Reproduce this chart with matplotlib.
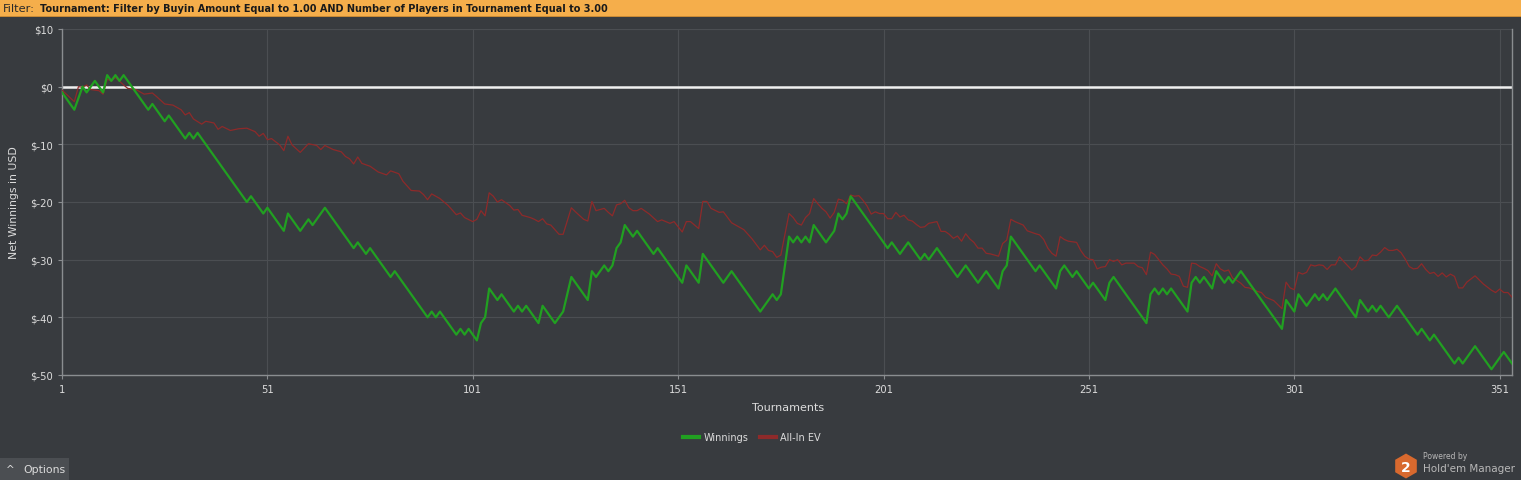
import matplotlib
matplotlib.use("Agg")
import matplotlib.pyplot as plt
from matplotlib.patches import Rectangle, RegularPolygon
from matplotlib import font_manager

# ---- data ----
win_t = [1, 4, 6, 7, 9, 11, 12, 13, 14, 15, 16, 22, 23, 26, 27, 31, 32, 33, 34, 46, 47, 50, 51, 55, 56, 59, 61, 62, 65,
         72, 73, 75, 76, 81, 82, 90, 91, 92, 93, 97, 98, 99, 100, 102, 103, 104, 105, 107, 108, 111, 112, 113, 114, 117,
         118, 121, 123, 125, 129, 130, 131, 133, 134, 135, 136, 137, 138, 140, 141, 145, 146, 152, 153, 156, 157, 162,
         164, 171, 174, 175, 176, 178, 179, 180, 181, 182, 183, 184, 187, 189, 190, 191, 192, 193, 202, 203, 205, 207,
         210, 211, 212, 214, 219, 221, 224, 226, 229, 230, 231, 232, 238, 239, 243, 244, 245, 247, 248, 251, 252, 255,
         256, 257, 265, 266, 267, 268, 269, 270, 271, 275, 276, 277, 278, 279, 281, 282, 284, 285, 286, 288, 298, 299,
         301, 302, 304, 306, 307, 308, 309, 311, 316, 317, 319, 320, 321, 322, 324, 326, 331, 332, 334, 335, 340, 341,
         342, 345, 349, 352, 354]
win_v = [-1, -4, 0, -1, 1, -1, 2, 1, 2, 1, 2, -4, -3, -6, -5, -9, -8, -9, -8, -20, -19, -22, -21, -25, -22, -25, -23, -24,
         -21, -28, -27, -29, -28, -33, -32, -40, -39, -40, -39, -43, -42, -43, -42, -44, -41, -40, -35, -37, -36, -39,
         -38, -39, -38, -41, -38, -41, -39, -33, -37, -32, -33, -31, -32, -31, -28, -27, -24, -26, -25, -29, -28, -34,
         -31, -34, -29, -34, -32, -39, -36, -37, -36, -26, -27, -26, -27, -26, -27, -24, -27, -25, -22, -23, -22, -19,
         -28, -27, -29, -27, -30, -29, -30, -28, -33, -31, -34, -32, -35, -32, -31, -26, -32, -31, -35, -32, -31, -33,
         -32, -35, -34, -37, -34, -33, -41, -36, -35, -36, -35, -36, -35, -39, -34, -33, -34, -33, -35, -32, -34, -33,
         -34, -32, -42, -37, -39, -36, -38, -36, -37, -36, -37, -35, -40, -37, -39, -38, -39, -38, -40, -38, -43, -42,
         -44, -43, -48, -47, -48, -45, -49, -46, -48]

ev_t = [1, 4, 5, 6, 7, 8, 10, 11, 12, 13, 14, 16, 17, 19, 20, 21, 23, 24, 26, 28, 30, 31, 32, 33, 35, 36, 38, 39, 40,
        42, 44, 46, 48, 49, 50, 51, 52, 54, 55, 56, 57, 59, 61, 63, 64, 65, 67, 69, 70, 71, 72, 73, 74, 76, 78, 80, 81,
        83, 84, 86, 88, 89, 90, 91, 93, 95, 97, 98, 99, 101, 102, 103, 104, 105, 106, 107, 108, 110, 111, 112, 113, 115,
        116, 117, 118, 119, 120, 122, 123, 125, 126, 128, 129, 130, 131, 133, 134, 135, 136, 137, 138, 139, 140, 141,
        142, 144, 146, 147, 149, 150, 152, 153, 154, 156, 157, 158, 159, 161, 162, 164, 165, 167, 169, 171, 172, 173,
        174, 175, 176, 178, 179, 180, 181, 182, 183, 184, 185, 186, 187, 188, 189, 190, 191, 192, 193, 194, 195, 196,
        197, 198, 199, 200, 201, 202, 203, 204, 205, 206, 207, 208, 209, 210, 211, 212, 214, 215, 216, 217, 218, 219,
        220, 221, 222, 223, 224, 225, 226, 227, 229, 230, 231, 232, 233, 234, 235, 236, 238, 239, 240, 241, 242, 243,
        244, 245, 246, 248, 249, 250, 251, 252, 253, 254, 255, 256, 257, 258, 259, 260, 262, 263, 264, 265, 266, 267,
        268, 269, 270, 271, 272, 273, 274, 275, 276, 277, 278, 279, 280, 281, 282, 283, 284, 285, 286, 287, 288, 289,
        290, 292, 293, 294, 296, 297, 298, 299, 300, 301, 302, 303, 304, 305, 306, 307, 308, 309, 310, 311, 312, 313,
        315, 316, 317, 318, 319, 320, 321, 322, 323, 324, 325, 326, 327, 328, 329, 330, 331, 332, 333, 334, 335, 336,
        337, 338, 339, 340, 341, 342, 343, 345, 347, 349, 350, 351, 352, 353, 354]
ev_v = [-0.6, -2.6, 0.0, -0.1, 0.3, -0.5, -0.7, -1.3, 1.3, 1.0, 1.6, 0.3, -0.3, -0.5, -0.9, -1.3, -1.1, -1.7, -3.0, -3.2,
        -4.0, -4.9, -4.5, -5.6, -6.5, -6.0, -6.3, -7.4, -6.9, -7.6, -7.3, -7.2, -7.8, -8.6, -8.1, -9.2, -9.0, -10.1,
        -11.1, -8.6, -10.1, -11.4, -9.9, -10.2, -10.9, -10.2, -10.9, -11.3, -12.1, -12.5, -13.4, -12.2, -13.3, -13.8,
        -14.8, -15.3, -14.6, -15.1, -16.4, -18.0, -18.1, -18.7, -19.6, -18.6, -19.4, -20.6, -22.2, -21.9, -22.7, -23.4,
        -23.0, -21.5, -22.4, -18.4, -19.0, -20.0, -19.6, -20.6, -21.4, -21.3, -22.3, -22.7, -23.0, -23.4, -22.9, -23.8,
        -24.0, -25.6, -25.6, -21.0, -21.7, -23.0, -23.3, -19.9, -21.5, -21.1, -21.8, -22.4, -20.5, -20.3, -19.7, -21.0,
        -21.5, -21.5, -21.1, -22.1, -23.4, -23.1, -23.7, -23.4, -25.2, -23.4, -23.4, -24.6, -19.9, -19.9, -21.1, -21.8,
        -21.7, -23.6, -24.0, -24.8, -26.4, -28.3, -27.5, -28.4, -28.6, -29.6, -29.2, -22.0, -22.7, -23.7, -24.0, -22.7,
        -22.0, -19.4, -20.3, -21.1, -21.7, -22.8, -21.8, -19.5, -19.7, -20.3, -18.8, -19.0, -18.9, -19.7, -20.7, -22.1,
        -21.7, -22.0, -22.0, -22.9, -22.9, -21.8, -22.6, -22.3, -23.1, -23.3, -23.9, -24.4, -24.3, -23.7, -23.4, -25.1,
        -25.1, -25.6, -26.3, -25.9, -26.8, -25.5, -26.4, -27.0, -28.0, -28.0, -28.9, -29.0, -29.4, -27.2, -26.6, -23.0,
        -23.4, -23.7, -24.0, -25.0, -25.5, -25.7, -26.5, -28.0, -28.9, -29.4, -26.0, -26.5, -26.8, -27.0, -28.4, -29.4,
        -29.9, -30.0, -31.6, -31.3, -31.2, -30.0, -30.3, -30.0, -30.9, -30.6, -30.6, -31.2, -31.4, -32.6, -28.7, -29.1,
        -30.0, -30.9, -31.6, -32.5, -32.6, -32.9, -34.6, -34.8, -30.6, -30.7, -31.2, -31.5, -31.9, -32.8, -30.7, -31.6,
        -32.0, -31.8, -33.2, -33.6, -34.1, -34.8, -34.9, -35.5, -35.7, -36.5, -37.1, -37.8, -38.5, -33.9, -34.9, -35.2,
        -32.2, -32.5, -32.2, -30.9, -31.1, -30.9, -31.0, -31.7, -30.9, -30.9, -29.5, -30.3, -31.8, -31.2, -29.5, -30.2,
        -30.1, -29.2, -29.3, -28.7, -27.9, -28.4, -28.4, -28.2, -28.8, -29.9, -31.2, -31.6, -31.5, -30.7, -31.7, -32.4,
        -32.2, -32.9, -32.3, -33.0, -32.5, -32.9, -34.9, -34.9, -33.9, -32.8, -34.2, -35.3, -35.7, -35.1, -35.7, -35.7,
        -36.5]

x_ticks = [1, 51, 101, 151, 201, 251, 301, 351]
y_ticks = [10, 0, -10, -20, -30, -40, -50]
y_labels = ["$10", "$0", "$-10", "$-20", "$-30", "$-40", "$-50"]
series_names = ["Winnings", "All-In EV"]
filter_label = "Filter:"
filter_text = "Tournament: Filter by Buyin Amount Equal to 1.00 AND Number of Players in Tournament Equal to 3.00"

# ---- style ----
BG = "#383b3f"
GRID = "#4b4e52"
TXT = "#dcdcdc"
GREEN = "#21a021"
RED = "#8e2a2a"

installed = {f.name for f in font_manager.fontManager.ttflist}
narrow = "Liberation Sans Narrow" if "Liberation Sans Narrow" in installed else "DejaVu Sans"

W, H = 1521, 481
fig = plt.figure(figsize=(W / 100, H / 100), dpi=100, facecolor=BG)

def fx(px):
    return px / W

def fy(py):
    return 1 - py / H

# filter bar
fig.patches.append(Rectangle((0, fy(17)), 1, 17 / H, transform=fig.transFigure,
                             facecolor="#f5ae4b", edgecolor="none", zorder=0))
fig.patches.append(Rectangle((0, fy(18)), 1, 1 / H, transform=fig.transFigure,
                             facecolor="#c98a35", edgecolor="none", zorder=0))
fig.text(fx(3), fy(8.5), filter_label, fontsize=8.2, color="#2a2a2a", va="center", ha="left",
         family=[narrow, "DejaVu Sans"])
fig.text(fx(40), fy(8.5), filter_text, fontsize=8.6 if narrow != "DejaVu Sans" else 7.0,
         color="#1a1a1a", va="center", ha="left", fontweight="bold", family=[narrow, "DejaVu Sans"])

ax = fig.add_axes([fx(62), fy(376), fx(1512) - fx(62), fy(30) - fy(376)])
ax.set_facecolor(BG)

ax.plot(win_t, win_v, color=GREEN, lw=1.6, zorder=4, label=series_names[0])
ax.plot(ev_t, ev_v, color=RED, lw=0.9, zorder=3, label=series_names[1])
ax.axhline(0, color="#f0f0f0", lw=1.8, zorder=2)

ax.set_xlim(1, 354)
ax.set_ylim(-50, 10)
ax.set_xticks(x_ticks)
ax.set_xticklabels([str(t) for t in x_ticks])
ax.set_yticks(y_ticks)
ax.set_yticklabels(y_labels)
ax.grid(True, color=GRID, lw=0.8, zorder=1)
ax.tick_params(colors="#8a8d90", labelcolor=TXT, labelsize=7.2, length=3, width=0.8)

ax.spines["top"].set_visible(False)
for s in ["left", "bottom", "right"]:
    ax.spines[s].set_color("#8a8d90")
    ax.spines[s].set_linewidth(1.0)

fig.text(fx(14), fy(203), "Net Winnings in USD", rotation=90, fontsize=7.8, color=TXT,
         va="center", ha="center")
fig.text(fx(788), fy(408), "Tournaments", fontsize=8, color=TXT, va="center", ha="center")

leg = fig.legend(loc="center", bbox_to_anchor=(fx(752), fy(438)), ncol=2, frameon=False,
                 fontsize=7, labelcolor=TXT, handlelength=1.6, columnspacing=1.2, handletextpad=0.5)
for line in leg.get_lines():
    line.set_linewidth(3)

# options button
fig.patches.append(Rectangle((0, 0), fx(69), 22 / H, transform=fig.transFigure,
                             facecolor="#4b4e52", edgecolor="none", zorder=0))
fig.text(fx(6), fy(470), "^", fontsize=7.5, color=TXT, va="center", ha="left")
fig.text(fx(23), fy(470), "Options", fontsize=7.8, color=TXT, va="center", ha="left")

# logo
logo_ax = fig.add_axes([fx(1393), fy(480), fx(26), 26 / H])
logo_ax.set_axis_off()
logo_ax.set_xlim(0, 1)
logo_ax.set_ylim(0, 1)
logo_ax.set_aspect("equal")
logo_ax.add_patch(RegularPolygon((0.5, 0.5), numVertices=6, radius=0.48, orientation=0,
                                 facecolor="#d8692e", edgecolor="none", zorder=1))
logo_ax.text(0.5, 0.47, "2", fontsize=10, color="white", fontweight="bold",
             ha="center", va="center", zorder=3)
fig.text(fx(1423), fy(457), "Powered by", fontsize=5.5, color="#b8b8b8", va="center", ha="left")
fig.text(fx(1423), fy(469), "Hold'em Manager", fontsize=7.5, color="#b8b8b8", va="center", ha="left")

fig.savefig("out.png", dpi=100, facecolor=BG)
